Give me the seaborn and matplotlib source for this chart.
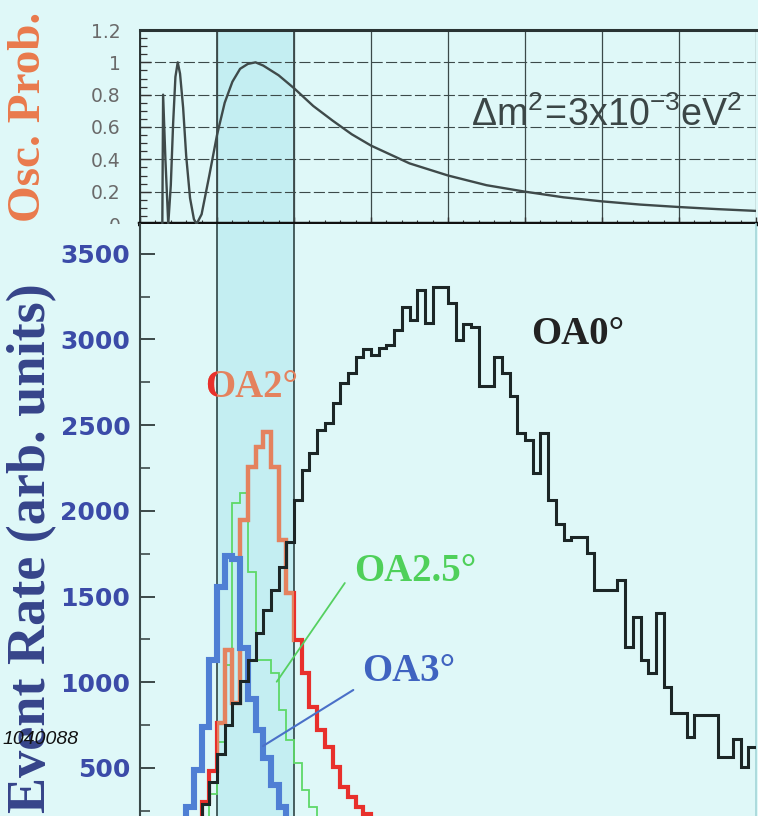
import numpy as np
import pandas as pd
import matplotlib
matplotlib.use("Agg")
import matplotlib.pyplot as plt
from matplotlib.ticker import MultipleLocator, FixedLocator, FixedFormatter
from matplotlib.patches import Rectangle
import seaborn as sns

# ---------------------------------------------------------------- data --
# oscillation probability along the curve (neutrino energy in GeV)
osc_energy = [0.290, 0.300, 0.330, 0.367, 0.400, 0.430, 0.460, 0.490, 0.520, 0.560,
              0.600, 0.650, 0.700, 0.735, 0.800, 0.900, 1.000, 1.100, 1.200, 1.300,
              1.400, 1.500, 1.600, 1.800, 2.000, 2.250, 2.500, 2.750, 3.000, 3.500,
              4.000, 4.500, 5.000, 5.500, 6.000, 6.500, 7.000, 7.500, 8.000]
osc_prob = [0.00, 0.80, 0.40, 0.00, 0.24, 0.62, 0.91, 1.00, 0.93, 0.72,
            0.42, 0.16, 0.03, 0.00, 0.06, 0.30, 0.55, 0.75, 0.88, 0.96,
            0.99, 1.00, 0.98, 0.92, 0.84, 0.73, 0.64, 0.555, 0.485, 0.375,
            0.30, 0.24, 0.20, 0.165, 0.14, 0.12, 0.105, 0.092, 0.081]

# event rates per 0.1 GeV bin, starting at 0 GeV (remaining bins are empty)
rate_oa0 = [0, 0, 0, 0, 0, 40, 100, 180, 290, 420,
            580, 750, 877, 1010, 1130, 1290, 1420, 1538, 1674, 1820,
            2063, 2238, 2336, 2472, 2512, 2627, 2744, 2803, 2899, 2944,
            2909, 2948, 2967, 3055, 3191, 3113, 3288, 3094, 3307, 3307,
            3210, 2997, 3090, 3070, 2726, 2726, 2899, 2803, 2668, 2452,
            2413, 2219, 2452, 2063, 1926, 1830, 1849, 1849, 1752, 1538,
            1538, 1538, 1597, 1207, 1382, 1130, 1052, 1403, 974, 819,
            819, 683, 809, 809, 809, 566, 566, 672, 508, 624]
rate_oa2 = [0, 0, 0, 0, 0, 60, 120, 190, 300, 480,
            760, 1188, 880, 1947, 2257, 2375, 2461, 2257, 1830, 1520,
            1247, 1054, 858, 722, 624, 508, 391, 333, 274, 230,
            195, 160, 130, 105, 85, 65, 50, 40, 30, 20,
            15, 10, 8, 5, 3]
rate_oa25 = [0, 0, 0, 0, 0, 0, 80, 130, 200, 350,
             650, 1100, 2045, 2104, 1644, 1130, 1130, 1054, 838, 663,
             529, 372, 274, 210, 160, 120, 90, 60, 40, 20,
             10, 5]
rate_oa3 = [0, 0, 0, 0, 60, 200, 274, 490, 740, 1130,
            1557, 1735, 1720, 1200, 900, 720, 560, 400, 270, 190,
            130, 80, 50, 30, 15, 5]

prob_ticks = [0, 0.2, 0.4, 0.6, 0.8, 1.0, 1.2]
prob_tick_labels = ["0", "0.2", "0.4", "0.6", "0.8", "1", "1.2"]
rate_ticks = [500, 1000, 1500, 2000, 2500, 3000, 3500]
rate_tick_labels = ["500", "1000", "1500", "2000", "2500", "3000", "3500"]

band_lo, band_hi = 1.0, 2.0          # highlighted energy window (GeV)
bin_width = 0.1
n_bins = 80

# --------------------------------------------------------------- style --
BG = "#dff8f8"
BAND = "#c4eef2"
GRID = "#3c4a4a"
BLACK = "#1c2626"
RED = "#e8302c"
SALMON = "#e4825e"
GREEN = "#5ed868"
BLUE = "#4f7fd4"

sns.set_theme(style="ticks")
plt.rcParams["font.family"] = ["DejaVu Sans"]
plt.rcParams["mathtext.fontset"] = "custom"
plt.rcParams["mathtext.rm"] = "Liberation Sans"

edges = np.round(np.arange(n_bins + 1) * bin_width, 3)


def step_frame(rates):
    vals = list(rates) + [0] * (n_bins - len(rates))
    return pd.DataFrame({"energy": edges, "rate": vals + [vals[-1]]})


osc_df = pd.DataFrame({"energy": osc_energy, "prob": osc_prob})

W, H = 758, 816
fig = plt.figure(figsize=(W / 100, H / 100), dpi=100, facecolor=BG)
ax1 = fig.add_axes([140 / W, 1 - 224 / H, 616 / W, 194 / H])
ax2 = fig.add_axes([140 / W, 0.0, 616 / W, 1 - 224 / H])

for ax in (ax1, ax2):
    ax.set_facecolor(BG)
    ax.set_xlim(0, 8)
    ax.axvspan(band_lo, band_hi, color=BAND, lw=0, zorder=0.3)

# ------------------------------------------------------ oscillation panel
ax1.set_axisbelow(True)
ax1.set_ylim(0, 1.2)
ax1.yaxis.set_major_locator(FixedLocator(prob_ticks))
ax1.yaxis.set_major_formatter(FixedFormatter(prob_tick_labels))
ax1.yaxis.set_minor_locator(MultipleLocator(0.05))
ax1.xaxis.set_major_locator(MultipleLocator(1))
ax1.xaxis.set_minor_locator(MultipleLocator(0.2))
ax1.grid(axis="y", which="major", color=GRID, lw=0.8, ls=(0, (10, 3)))
ax1.grid(axis="x", which="major", color=GRID, lw=0.9, ls="-")
for xv in (band_lo, band_hi):
    ax1.axvline(xv, color=GRID, lw=1.3, zorder=0.6)
sns.lineplot(data=osc_df, x="energy", y="prob", ax=ax1, color="#3f4a4a",
             lw=1.7, sort=False, estimator=None, legend=False, zorder=3)
ax1.set_xlabel("")
ax1.set_ylabel("")
ax1.tick_params(axis="y", which="major", direction="in", length=8, width=1.0,
                color="#333333", labelsize=13.5, labelcolor="#6a6a6a", pad=14)
ax1.tick_params(axis="y", which="minor", direction="in", length=5, width=0.9,
                color="#333333")
ax1.tick_params(axis="x", which="major", direction="in", length=5, width=1.0,
                color="#333333", labelbottom=False)
ax1.tick_params(axis="x", which="minor", direction="in", length=3, width=0.8,
                color="#333333")
ax1.spines["top"].set_linewidth(2.2)
ax1.spines["top"].set_color("#2a3434")
ax1.spines["left"].set_linewidth(1.4)
ax1.spines["left"].set_color("#2a3434")
ax1.spines["bottom"].set_linewidth(3.2)
ax1.spines["bottom"].set_color("#111111")
ax1.spines["right"].set_visible(False)
ax1.text(7.82, 0.675, r"$\mathregular{Δm^2\!=\!3x10^{-3}eV^2}$", ha="right", va="center",
         fontsize=27, family="Liberation Sans", color="#3b4646", zorder=4)

# --------------------------------------------------------- event rates --
ax2.set_ylim(220, 3673)
for xv in (band_lo, band_hi):
    ax2.axvline(xv, color="#2e4444", lw=1.2, zorder=0.6)

step_kw = dict(x="energy", y="rate", ax=ax2, drawstyle="steps-post",
               sort=False, estimator=None, legend=False,
               solid_joinstyle="miter")
sns.lineplot(data=step_frame(rate_oa25), color=GREEN, lw=1.3, zorder=2, **step_kw)
sns.lineplot(data=step_frame(rate_oa2), color=RED, lw=3.0, zorder=3, **step_kw)
# inside the highlighted window the OA2 curve appears in a lighter salmon tone
sns.lineplot(data=step_frame(rate_oa2), color=SALMON, lw=3.0, zorder=3.1, **step_kw)
ax2.lines[-1].set_clip_path(Rectangle((band_lo, 0), band_hi - band_lo, 5000,
                                      transform=ax2.transData))
sns.lineplot(data=step_frame(rate_oa3), color=BLUE, lw=4.4, zorder=4, **step_kw)
sns.lineplot(data=step_frame(rate_oa0), color=BLACK, lw=2.2, zorder=5, **step_kw)

ax2.set_xlabel("")
ax2.set_ylabel("")
ax2.set_xticks([])
ax2.yaxis.set_major_locator(FixedLocator(rate_ticks))
ax2.yaxis.set_major_formatter(FixedFormatter(rate_tick_labels))
ax2.yaxis.set_minor_locator(MultipleLocator(250))
ax2.tick_params(axis="y", which="major", direction="in", length=11, width=1.3,
                color="#2f3b3b", labelsize=18, labelcolor="#3b4ba8", pad=7)
ax2.tick_params(axis="y", which="minor", direction="in", length=7, width=1.1,
                color="#2f3b3b")
for lab in ax2.get_yticklabels():
    lab.set_fontweight("bold")
ax2.spines["top"].set_visible(False)
ax2.spines["bottom"].set_visible(False)
ax2.spines["left"].set_linewidth(1.5)
ax2.spines["left"].set_color("#3a4848")
ax2.spines["right"].set_linewidth(1.2)
ax2.spines["right"].set_color("#a4d6d8")

lab_kw = dict(ha="center", va="center", family="Liberation Serif",
              fontweight="bold", fontsize=28, zorder=6)
ax2.text(5.69, 3026, "OA0°", color="#222222", **lab_kw)
ax2.text(1.455, 2722, "OA2°", color=SALMON, **lab_kw)
red_part = ax2.text(1.455, 2722, "OA2°", color=RED, clip_on=True, **lab_kw)
red_part.set_clip_path(Rectangle((0, 0), band_lo, 5000, transform=ax2.transData))
ax2.text(3.57, 1649, "OA2.5°", color="#4fd05a", **lab_kw)
ax2.text(3.49, 1060, "OA3°", color="#3f63c0", **lab_kw)

# pointer lines from the labels to their curves
ax2.plot([2.66, 1.775], [1579, 1003], color="#55d060", lw=1.3, zorder=6)
ax2.plot([2.77, 1.597], [955, 628], color="#4a70c8", lw=1.5, zorder=6)

# ---------------------------------------------------------- axis titles --
fig.text(0.038, 1 - 117 / H, "Osc. Prob.", rotation=90, ha="center", va="center",
         family="Liberation Serif", fontweight="bold", fontsize=34, color="#ea7a4c")
fig.text(0.042, 1 - 283 / H, "Event Rate (arb. units)", rotation=90, ha="center",
         va="top", family="Liberation Serif", fontweight="bold", fontsize=39,
         color="#36448a")
fig.text(0.003, 1 - 740 / H, "1040088", ha="left", va="center", fontsize=14,
         style="italic", family="Liberation Sans", color="#111111", zorder=7)

# lower panel hides the lower half of the "0" probability label
fig.add_artist(Rectangle((100 / W, 1 - 240 / H), 38 / W, 16 / H,
                         transform=fig.transFigure, facecolor=BG,
                         edgecolor="none", zorder=5))

fig.savefig("out.png", dpi=100, facecolor=BG)
